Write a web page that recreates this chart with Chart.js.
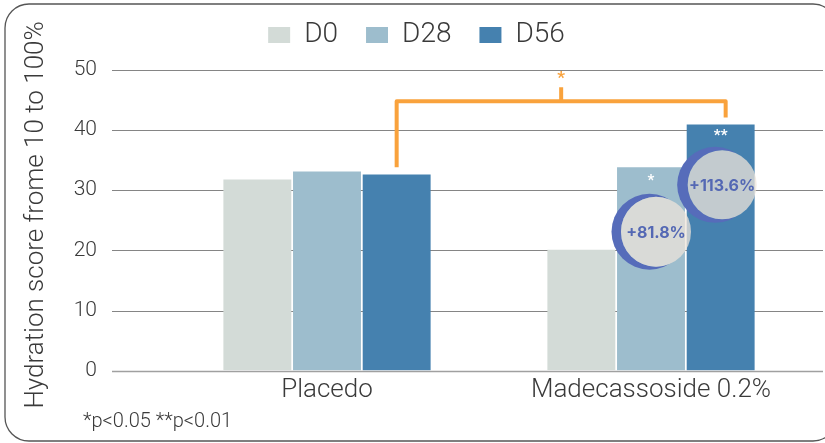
<!DOCTYPE html>
<html>
<head>
<meta charset="utf-8">
<script src="https://cdn.jsdelivr.net/npm/chart.js@4/dist/chart.umd.min.js"></script>
<style>
  html, body { margin: 0; padding: 0; background: #fff; }
  #wrap { width: 825px; height: 443px; }
</style>
</head>
<body>
<div id="wrap"><canvas id="hydrationChart"></canvas></div>
<script>
// values
const categories = ['Placedo', 'Madecassoside 0.2%'];
const seriesNames = ['D0', 'D28', 'D56'];
const d0Values = [31.8, 20.1];
const d28Values = [33.1, 33.8];
const d56Values = [32.6, 40.9];
const yTicks = [0, 10, 20, 30, 40, 50];
const changeLabels = ['+81.8%', '+113.6%'];
const sigLabels = ['*', '**'];
const bracketSig = '*';
const footnote = '*p<0.05 **p<0.01';

const colors = ['#d3dbd7', '#9dbdcd', '#4581af'];
const textColor = '#3a3a3a';

// rounded frame + grid lines
const framePlugin = {
  id: 'frame',
  beforeDraw(chart) {
    const ctx = chart.ctx;
    ctx.save();
    ctx.strokeStyle = '#555';
    ctx.lineWidth = 1.3;
    ctx.beginPath();
    ctx.roundRect(5, 4, 832, 437, 24);
    ctx.stroke();
    ctx.restore();
  },
  beforeDatasetsDraw(chart) {
    const ctx = chart.ctx;
    const y = chart.scales.y;
    const area = chart.chartArea;
    ctx.save();
    yTicks.forEach(v => {
      const py = Math.round(y.getPixelForValue(v)) + 0.5;
      ctx.strokeStyle = v === 0 ? '#a0a0a0' : '#858585';
      ctx.lineWidth = v === 0 ? 1.5 : 1.1;
      ctx.beginPath();
      ctx.moveTo(area.left - 53, py);
      ctx.lineTo(area.right + 10, py);
      ctx.stroke();
    });
    ctx.restore();
  }
};

// bracket, badges and footnote
const notesPlugin = {
  id: 'notes',
  afterDatasetsDraw(chart) {
    const ctx = chart.ctx;
    const y = chart.scales.y;
    const d28 = chart.getDatasetMeta(1).data;
    const d56 = chart.getDatasetMeta(2).data;

    // orange bracket between the two D56 bars
    const orange = '#f9a23c';
    const xl = d56[0].x;
    const xr = d56[1].x + 5;
    const yTop = y.getPixelForValue(44.8);
    ctx.save();
    ctx.strokeStyle = orange;
    ctx.lineWidth = 4;
    ctx.lineJoin = 'round';
    ctx.beginPath();
    ctx.moveTo(xl, y.getPixelForValue(33.8));
    ctx.lineTo(xl, yTop);
    ctx.lineTo(xr, yTop);
    ctx.lineTo(xr, y.getPixelForValue(42.1));
    ctx.moveTo((xl + xr) / 2, yTop);
    ctx.lineTo((xl + xr) / 2, y.getPixelForValue(47.1));
    ctx.stroke();
    ctx.fillStyle = orange;
    ctx.font = 'bold 17px Roboto';
    ctx.textAlign = 'center';
    ctx.textBaseline = 'middle';
    ctx.fillText(bracketSig, (xl + xr) / 2, y.getPixelForValue(48.6));
    ctx.restore();

    // badges on the Madecassoside bars
    const badges = [
      {bar: d28[1], v: 23.1, dx: 5, r: 35, bdx: -1.5, br: 38, sv: 31.5},
      {bar: d56[1], v: 30.9, dx: 1.5, r: 34.5, bdx: -5.5, br: 38, sv: 38.9}
    ];
    badges.forEach((b, i) => {
      const cx = b.bar.x + b.dx;
      const cy = y.getPixelForValue(b.v);
      ctx.save();
      ctx.fillStyle = '#fff';
      ctx.font = 'bold 15px Roboto';
      ctx.textAlign = 'center';
      ctx.textBaseline = 'middle';
      ctx.fillText(sigLabels[i], b.bar.x, y.getPixelForValue(b.sv));

      // blue crescent: blue disc outside the light disc
      ctx.beginPath();
      ctx.rect(0, 0, chart.width, chart.height);
      ctx.arc(cx, cy, b.r, 0, Math.PI * 2);
      ctx.clip('evenodd');
      ctx.fillStyle = '#566cba';
      ctx.beginPath();
      ctx.arc(b.bar.x + b.bdx, cy, b.br, 0, Math.PI * 2);
      ctx.fill();
      ctx.restore();

      ctx.save();
      ctx.fillStyle = 'rgba(237, 228, 218, 0.75)';
      ctx.beginPath();
      ctx.arc(cx, cy, b.r, 0, Math.PI * 2);
      ctx.fill();
      ctx.fillStyle = '#5468b4';
      ctx.font = 'bold 16px Inter';
      ctx.textAlign = 'center';
      ctx.textBaseline = 'middle';
      ctx.fillText(changeLabels[i], cx, cy + 1);
      ctx.restore();
    });

    ctx.save();
    ctx.fillStyle = textColor;
    ctx.font = '300 20px Roboto';
    ctx.textBaseline = 'alphabetic';
    ctx.fillText(footnote, 83, 427);
    ctx.restore();
  }
};

const seriesData = [d0Values, d28Values, d56Values];

new Chart(document.getElementById('hydrationChart'), {
  type: 'bar',
  data: {
    labels: categories,
    datasets: seriesNames.map((name, i) => ({
      label: name,
      data: seriesData[i],
      backgroundColor: colors[i],
      borderWidth: 0,
      categoryPercentage: 0.645,
      barPercentage: 0.975
    }))
  },
  options: {
    responsive: true,
    maintainAspectRatio: false,
    animation: false,
    layout: { padding: { top: -7, left: 20, right: 12, bottom: 33 } },
    plugins: {
      legend: {
        position: 'top',
        labels: {
          boxWidth: 22,
          boxHeight: 16,
          padding: 28,
          color: textColor,
          font: { family: 'Roboto', size: 28, weight: '300' }
        }
      },
      tooltip: { enabled: false }
    },
    scales: {
      x: {
        grid: { display: false, drawTicks: false },
        border: { display: false },
        ticks: {
          padding: 4,
          color: textColor,
          font: { family: 'Roboto', size: 26, weight: '300' }
        }
      },
      y: {
        min: 0,
        max: 51.8,
        afterFit(scale) { scale.width = 145; },
        afterBuildTicks(scale) { scale.ticks = yTicks.map(v => ({ value: v })); },
        grid: { display: true, color: 'transparent', drawTicks: true, tickLength: 53 },
        border: { display: false },
        ticks: {
          padding: 15,
          color: textColor,
          font: { family: 'Roboto', size: 21, weight: '300' }
        },
        title: {
          display: true,
          text: 'Hydration score frome 10 to 100%',
          color: textColor,
          padding: { top: 1, bottom: 0 },
          font: { family: 'Roboto', size: 26, weight: '300' }
        }
      }
    }
  },
  plugins: [framePlugin, notesPlugin]
});
</script>
</body>
</html>
